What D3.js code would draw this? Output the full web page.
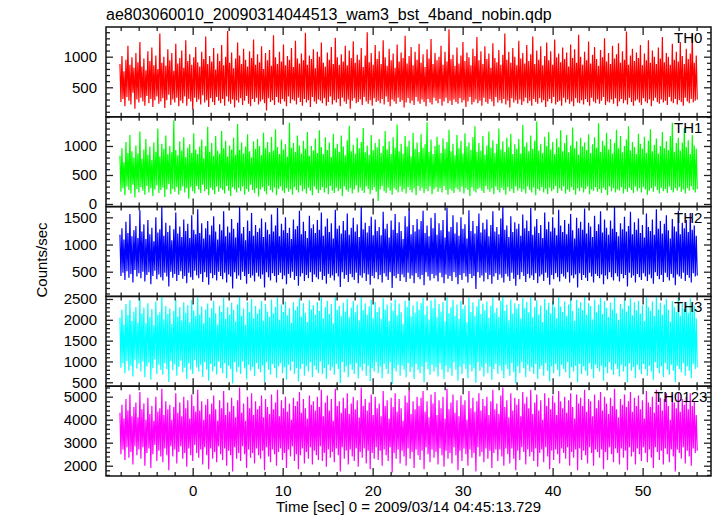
<!DOCTYPE html>
<html><head><meta charset="utf-8">
<script src="https://cdn.jsdelivr.net/npm/d3@7"></script>
<style>body{margin:0;background:#fff}svg{display:block}text{font-family:"Liberation Sans",Arial,Helvetica,sans-serif;fill:#000}</style>
</head><body><svg id="c" width="717" height="516"></svg>
<script>
const chartTitle = "ae803060010_20090314044513_wam3_bst_4band_nobin.qdp";
const xLabel = "Time [sec] 0 = 2009/03/14 04:45:13.729";
const yLabel = "Counts/sec";
const panelNames = ["TH0", "TH1", "TH2", "TH3", "TH0123"];
const panelColors = ["#ff0000", "#00ff00", "#0000ff", "#00ffff", "#ff00ff"];
const timeStart = -8.08, timeStep = 0.1108;
const xDomain = [-9.63, 57.6];
const xMajorTicks = [0, 10, 20, 30, 40, 50];
const xMinorTicks = [-8,-6,-4,-2,2,4,6,8,12,14,16,18,22,24,26,28,32,34,36,38,42,44,46,48,52,54,56];
const yDomains = [[18, 1485], [-45, 1503], [46, 1697], [406, 2562], [1552, 5456]];
const yMajorTicks = [[500, 1000], [0, 500, 1000], [500, 1000, 1500], [500, 1000, 1500, 2000, 2500], [2000, 3000, 4000, 5000]];
const yMinorStep = [100, 100, 100, 100, 200];

const th0 = [880,260,1010,310,760,190,950,340,1180,280,870,220,990,410,820,150,1060,300,910,250,
1240,330,840,270,970,200,780,360,1090,240,930,310,1150,180,860,290,1020,350,800,230,
1380,270,900,320,1000,160,850,290,1120,380,940,210,1060,300,770,250,1210,330,890,190,
980,280,1100,240,820,350,1270,200,930,310,1040,270,870,140,990,330,1160,260,910,300,
840,220,1080,370,960,250,1330,290,880,180,1010,320,920,260,1140,210,790,340,1050,280,
930,240,1190,310,860,200,1000,350,1420,270,900,230,1070,300,810,170,970,290,1230,250,
1020,320,880,210,1130,280,950,360,840,230,1090,190,980,310,1280,260,870,330,1040,220,
910,270,1170,300,800,240,1060,120,940,320,1110,260,850,290,1350,210,990,340,880,250,
1080,230,920,310,1200,270,860,190,1010,350,950,240,1140,300,830,280,1260,220,970,330,
890,260,1050,200,940,310,1390,250,870,290,1020,180,960,340,1120,270,810,230,1080,300,
1000,280,1230,240,900,320,840,200,1070,260,950,350,1160,220,880,290,1310,250,990,310,
870,190,1040,330,920,270,1180,230,860,300,1100,150,980,280,1250,320,900,240,1030,260,
950,300,1140,210,830,340,1020,270,1400,230,910,290,1060,200,870,320,1190,260,960,280,
1090,240,880,310,1270,220,990,350,850,260,1130,190,940,300,1050,270,820,230,1200,330,
920,260,1070,290,980,170,1340,250,890,320,1010,240,1160,280,860,210,1080,340,950,270,
1210,230,900,300,1040,260,830,190,1120,310,970,250,1290,220,880,330,1060,280,940,240,
1000,310,1180,200,870,270,1080,330,920,240,1450,280,960,210,1030,300,850,260,1150,230,
890,320,1020,250,1240,290,930,180,1070,270,990,340,860,220,1130,260,1010,300,1320,240,
940,280,1090,200,880,330,1170,260,960,230,1050,310,820,270,1220,190,980,340,910,250,
1110,290,870,240,1030,310,1380,220,950,280,1080,170,900,320,1140,250,1000,290,860,230,
1260,300,970,210,1060,270,890,330,1190,240,930,280,1040,200,1330,310,880,260,1100,230,
950,320,1170,250,860,290,1010,180,1230,270,940,310,1090,240,870,340,1280,220,990,260,
1050,280,910,200,1150,330,960,250,1070,300,840,230,1200,270,980,190,1120,320,900,250,
1360,240,1000,290,870,220,1080,310,940,260,1250,200,890,330,1030,270,1160,240,960,300,
850,230,1110,280,990,340,1300,210,920,270,1060,250,880,300,1180,230,970,320,1040,190,
1220,270,900,310,1090,240,950,290,1410,220,870,330,1020,260,1130,200,930,280,1070,300,
980,250,1190,210,860,320,1050,270,940,240,1270,300,900,190,1100,280,1000,330,880,260,
1150,230,970,300,1320,250,910,280,1060,210,1000,340,870,270,1210,240,950,310,1080,220,
920,290,1240,260,1010,200,880,330,1130,270,960,240,1050,310,1370,250,900,280,1020,300];

const th1 = [830,210,960,270,720,150,1070,300,880,240,1190,180,910,330,800,110,1010,260,870,200,
1250,290,780,230,940,160,1120,310,850,200,990,270,760,140,1060,250,900,320,1300,190,
820,240,1040,280,950,120,1180,250,860,340,1000,170,890,260,1440,210,930,290,840,160,
1080,230,920,300,1150,200,810,270,970,90,1030,290,880,220,1220,180,940,310,860,250,
990,190,1110,330,790,220,1000,260,1330,150,900,280,1050,240,830,170,1170,300,920,210,
870,270,1260,240,960,180,1090,310,820,230,1010,140,940,290,1140,250,850,200,1380,280,
930,220,1060,300,870,160,990,260,1200,210,910,330,800,240,1080,190,950,270,1120,130,
1000,250,840,290,1230,220,960,170,1070,310,890,240,1160,200,920,280,1290,150,980,260,
860,300,1110,230,940,190,1030,270,820,210,1400,250,970,160,1050,290,900,240,1180,200,
1010,320,870,220,1090,260,950,180,1240,280,830,230,1000,150,920,300,1130,250,880,190,
1270,240,980,290,860,200,1150,270,930,170,1060,310,810,230,1210,190,960,280,1040,220,
900,260,1180,140,990,300,840,240,1100,210,1350,270,910,180,1020,250,870,320,1140,200,
960,280,1070,230,1310,190,890,300,1010,260,850,170,1190,240,930,290,1050,210,980,50,
1120,250,880,310,1000,220,1260,190,940,280,1080,230,860,160,1150,270,970,240,1370,200,
910,300,1040,210,870,260,1170,180,990,290,1090,240,820,200,1230,270,950,150,1060,310,
890,230,1200,280,970,190,1030,260,1410,220,900,300,1110,170,860,250,1000,290,1160,210,
1020,270,880,200,1130,310,950,240,1070,160,1280,260,910,230,1040,190,840,280,1190,250,
960,210,1090,300,870,180,1220,270,990,240,1060,140,930,290,1150,230,1340,200,900,260,
1050,280,920,230,1170,190,850,310,1010,250,1250,210,970,270,1100,170,880,300,1040,240,
1300,200,940,280,1080,240,900,160,1140,290,980,220,1210,260,860,190,1030,300,950,230,
1120,270,870,210,1360,250,990,180,1060,300,910,240,1180,200,950,280,1090,150,1420,260,
920,230,1040,290,880,200,1160,260,1000,170,1240,280,940,220,1070,250,860,310,1130,190,
980,270,1270,230,910,300,1050,180,1190,250,890,210,1010,290,1320,240,960,160,1080,270,
850,220,1140,280,990,200,1060,260,930,300,1200,170,880,250,1030,230,1150,290,970,210,
1390,260,900,190,1090,280,1010,240,1230,150,940,300,1120,220,870,270,1050,200,1280,250,
960,230,1170,290,890,180,1000,260,1110,210,1340,280,920,240,1070,190,980,300,860,220,
1210,270,1040,200,950,290,1160,250,880,160,1090,230,1290,270,910,210,1020,300,1130,240,
870,180,1000,280,1240,220,960,260,1080,190,930,300,1170,240,1400,200,900,270,1050,230,
1140,290,920,210,1060,250,1310,180,980,270,1100,230,860,300,1190,240,1010,200,950,260];

const th2 = [1180,420,1300,480,1090,350,1420,510,1210,390,1560,460,1150,300,1260,530,1340,410,1120,470,
1630,380,1240,500,1370,320,1100,440,1450,490,1190,270,1310,420,1060,520,1500,360,1220,450,
1280,400,1690,340,1160,480,1400,410,1230,230,1350,500,1080,390,1280,460,1590,330,1200,440,
1330,510,1140,370,1460,420,1250,290,1380,480,1120,400,1540,350,1270,520,1190,430,1650,380,
1210,460,1390,310,1110,490,1300,400,1430,260,1180,470,1350,380,1520,440,1240,340,1090,500,
1370,420,1260,360,1610,480,1150,300,1330,450,1220,410,1470,190,1290,490,1130,370,1400,430,
1700,350,1200,500,1320,420,1080,280,1440,460,1250,390,1580,430,1160,320,1360,480,1230,410,
1300,370,1480,450,1140,210,1410,490,1270,400,1190,340,1550,470,1240,420,1350,300,1670,440,
1150,480,1380,360,1260,430,1500,270,1210,460,1310,390,1100,500,1460,350,1280,420,1340,240,
1620,410,1190,470,1420,330,1250,440,1120,380,1530,490,1300,310,1370,450,1210,400,1450,360,
1270,500,1590,350,1160,420,1330,280,1480,460,1230,390,1390,430,1110,340,1640,470,1290,410,
1350,220,1200,490,1430,370,1260,440,1570,310,1180,460,1310,400,1490,350,1240,480,1370,290,
1140,430,1690,390,1280,470,1400,330,1220,450,1340,260,1510,420,1170,380,1460,490,1250,360,
1320,440,1170,300,1600,470,1290,410,1380,350,1130,490,1440,200,1270,420,1560,380,1210,460,
1410,330,1250,450,1100,400,1520,310,1330,480,1660,370,1190,430,1360,290,1240,470,1470,400,
1280,360,1430,440,1620,250,1210,490,1350,410,1150,340,1490,460,1300,380,1580,430,1180,320,
1390,480,1260,400,1450,290,1130,450,1680,370,1240,420,1320,330,1540,490,1200,400,1410,270,
1160,440,1500,350,1290,470,1370,410,1110,300,1630,460,1250,380,1430,420,1200,180,1340,490,
1570,390,1220,430,1400,320,1280,480,1460,360,1150,440,1360,280,1610,410,1240,470,1320,350,
1190,450,1480,390,1700,300,1270,460,1350,410,1140,330,1520,480,1230,370,1410,240,1290,440,
1380,360,1160,490,1550,420,1300,310,1440,460,1250,380,1670,430,1180,350,1330,470,1470,290,
1210,410,1360,450,1120,330,1590,480,1280,390,1420,260,1240,440,1500,360,1310,470,1170,400,
1640,320,1350,460,1230,410,1450,370,1190,490,1380,300,1560,430,1260,380,1110,450,1490,210,
1300,470,1420,350,1270,440,1660,390,1200,330,1400,480,1330,410,1140,300,1530,460,1250,420,
1370,380,1610,450,1220,270,1460,430,1310,360,1180,490,1440,400,1290,340,1690,470,1230,410,
1150,320,1390,460,1280,380,1510,440,1240,230,1340,480,1600,390,1190,430,1410,300,1270,460,
1480,400,1210,350,1360,470,1130,410,1570,330,1320,450,1250,380,1460,280,1180,490,1650,420,
1290,360,1430,440,1200,310,1380,480,1540,400,1260,340,1110,460,1470,390,1330,250,1240,450,
1620,410,1190,370,1400,480,1300,330,1450,440,1230,390,1580,300,1270,470,1350,410,1160,430];

const th3 = [2050,850,2240,960,1880,720,2380,1010,2110,780,2470,900,1970,640,2200,1040,2310,830,1930,950,
2520,760,2150,1000,2290,620,1910,880,2400,970,2060,560,2260,840,1860,1050,2440,700,2120,920,
2180,800,2560,680,2010,960,2330,820,2140,510,2270,1010,1900,790,2210,930,2500,660,2080,870,
2300,1020,1990,740,2420,850,2170,580,2350,950,1940,800,2480,700,2230,1030,2090,860,2550,760,
2130,920,2320,630,1920,980,2250,810,2390,540,2060,940,2280,760,2460,880,2160,690,1890,1000,
2340,840,2190,720,2530,960,2020,600,2300,900,2120,820,2410,470,2240,980,1960,740,2370,860,
2560,700,2100,1000,2270,840,1880,570,2430,920,2180,780,2500,860,2040,650,2330,960,2150,820,
2260,740,2450,900,1980,500,2380,980,2200,800,2070,680,2490,940,2160,840,2310,610,2540,880,
2000,960,2360,720,2190,860,2440,560,2110,920,2280,780,1930,1000,2420,700,2230,840,2320,520,
2510,820,2080,940,2400,660,2170,880,1950,760,2470,980,2250,620,2350,900,2120,800,2430,720,
2210,1000,2540,700,2030,840,2310,580,2460,920,2140,780,2380,860,1920,680,2550,940,2240,820,
2330,480,2090,980,2410,740,2200,880,2500,620,2060,920,2290,800,2450,700,2180,960,2360,590,
1990,860,2560,780,2230,940,2390,660,2130,900,2320,530,2480,840,2040,760,2430,980,2190,720,
2300,880,2020,600,2520,940,2250,820,2370,700,1970,980,2410,460,2220,840,2490,760,2110,920,
2390,660,2180,900,1900,800,2460,620,2310,960,2540,740,2080,860,2350,580,2170,940,2440,800,
2240,720,2400,880,2530,500,2120,980,2340,820,2010,680,2470,920,2280,760,2510,860,2060,640,
2380,960,2200,800,2430,580,1960,900,2560,740,2160,840,2300,660,2480,980,2090,800,2370,540,
2020,880,2450,700,2260,940,2350,820,1940,600,2530,920,2190,760,2420,840,2100,490,2320,980,
2500,780,2140,860,2390,640,2230,960,2440,720,2050,880,2340,560,2540,820,2170,940,2290,700,
2070,900,2460,780,2560,600,2210,920,2360,820,1990,660,2490,960,2150,740,2400,480,2270,880,
2380,720,2030,980,2520,840,2280,620,2430,920,2180,760,2550,860,2060,700,2310,940,2470,580,
2130,820,2350,900,1950,660,2500,960,2240,780,2410,520,2160,880,2450,720,2300,940,2040,800,
2540,640,2320,920,2190,820,2440,740,2090,980,2370,600,2510,860,2210,760,1980,900,2480,500,
2280,940,2420,700,2230,880,2550,780,2120,660,2400,960,2330,820,2010,600,2490,920,2180,840,
2360,760,2530,900,2140,540,2450,860,2290,720,2070,980,2410,800,2250,680,2560,940,2160,820,
2000,640,2380,920,2270,760,2490,880,2200,500,2340,960,2520,780,2110,860,2420,600,2230,920,
2460,800,2150,700,2350,940,1970,820,2540,660,2300,900,2220,760,2440,560,2090,980,2550,840,
2250,720,2410,880,2120,620,2370,960,2500,800,2240,680,1960,920,2450,780,2310,500,2190,900,
2530,820,2100,740,2390,960,2260,660,2430,880,2170,780,2510,600,2230,940,2340,820,2040,860];

const th0123 = [4300,2500,4650,2700,4050,2250,4900,2800,4400,2350,5100,2600,4150,2050,4550,2850,4750,2450,4100,2700,
5200,2300,4450,2800,4700,2000,4000,2550,4950,2750,4250,1900,4600,2500,3950,2900,5000,2200,4350,2650,
4500,2400,5350,2150,4200,2750,4800,2450,4450,1800,4650,2850,4000,2400,4550,2700,5150,2100,4300,2600,
4750,2850,4150,2300,5000,2550,4500,1950,4850,2750,4050,2450,5100,2200,4600,2900,4350,2550,5300,2350,
4400,2700,4800,2050,4000,2800,4650,2450,4900,1850,4250,2750,4700,2300,5050,2600,4450,2150,3950,2850,
4850,2500,4500,2250,5250,2750,4200,2000,4750,2650,4350,2450,4950,1750,4600,2800,4100,2300,4850,2550,
5400,2200,4300,2850,4700,2500,3950,1900,5000,2700,4500,2350,5150,2550,4200,2100,4800,2750,4450,2450,
4600,2300,5050,2650,4100,1800,4900,2800,4550,2400,4250,2150,5100,2700,4450,2500,4750,2000,5300,2600,
4150,2750,4850,2250,4500,2550,5000,1900,4350,2700,4700,2400,4000,2850,4950,2200,4600,2500,4800,1850,
5200,2450,4300,2750,4900,2100,4500,2600,4050,2300,5050,2800,4650,2050,4800,2650,4400,2450,5000,2250,
4550,2850,5300,2200,4150,2550,4750,1950,5050,2700,4400,2350,4900,2600,3950,2150,5350,2750,4600,2450,
4800,1750,4300,2800,4950,2300,4500,2650,5150,2050,4250,2700,4700,2400,5000,2200,4450,2750,4850,1950,
4100,2600,5400,2350,4600,2750,4900,2100,4400,2650,4750,1850,5100,2550,4200,2300,5000,2800,4500,2250,
4700,2650,4150,2000,5250,2700,4600,2450,4850,2200,4050,2800,4950,1700,4550,2550,5150,2300,4350,2700,
4900,2100,4500,2650,3950,2400,5050,2000,4750,2750,5300,2300,4250,2600,4800,1900,4450,2700,5000,2450,
4600,2250,4950,2650,5250,1850,4350,2800,4800,2500,4100,2150,5100,2700,4700,2350,5200,2600,4200,2050,
4850,2750,4500,2450,5000,1950,4050,2650,5350,2300,4450,2550,4750,2100,5100,2800,4300,2450,4850,1800,
4150,2650,5050,2200,4650,2750,4850,2500,4000,2000,5250,2700,4500,2350,4950,2550,4350,1750,4800,2800,
5150,2400,4400,2600,4900,2150,4600,2750,5000,2300,4200,2650,4800,1900,5300,2550,4450,2700,4700,2200,
4250,2700,5050,2400,5400,2000,4550,2750,4850,2500,4100,2100,5150,2750,4400,2300,4950,1800,4650,2650,
4900,2250,4150,2800,5200,2600,4700,2050,5000,2700,4500,2400,5300,2600,4250,2200,4750,2750,5100,1950,
4400,2550,4850,2700,4000,2150,5150,2800,4600,2400,4950,1850,4450,2650,5050,2250,4750,2700,4200,2500,
5250,2100,4800,2750,4500,2550,5000,2300,4300,2800,4850,2000,5150,2600,4550,2350,4050,2700,5100,1800,
4700,2750,4950,2250,4600,2650,5300,2450,4350,2100,4900,2800,4800,2550,4150,2000,5100,2700,4500,2600,
4850,2350,5200,2700,4400,1850,5000,2600,4700,2250,4250,2800,4950,2500,4600,2150,5350,2750,4450,2550,
4100,2050,4900,2750,4650,2350,5100,2650,4550,1800,4800,2800,5200,2400,4350,2600,4950,2050,4600,2750,
5050,2500,4450,2200,4850,2800,4050,2550,5250,2150,4750,2700,4550,2350,5000,1900,4300,2800,5300,2600,
4650,2250,4950,2650,4400,2050,4900,2750,5150,2500,4600,2150,4000,2700,5050,2400,4750,1750,4500,2700,
5200,2550,4350,2300,4900,2800,4650,2100,5000,2650,4450,2400,5150,2000,4600,2750,4800,2550,4200,2650];

const seriesValues = [th0, th1, th2, th3, th0123];

const W = 717, H = 516;
const plotLeft = 106, plotRight = 711, plotTop = 27, plotBottom = 476;
const nP = panelNames.length;
const pH = (plotBottom - plotTop) / nP;
const svg = d3.select("#c");
svg.append("rect").attr("width", W).attr("height", H).attr("fill", "#fff");

const x = d3.scaleLinear().domain(xDomain).range([plotLeft, plotRight]);
const tickColor = "#222";
const fontSize = "15px";

function styleAxis(g) {
  g.select(".domain").remove();
  g.selectAll(".tick line").attr("stroke", tickColor).attr("stroke-width", 1.3);
  g.selectAll("text").attr("font-size", fontSize).attr("font-family", '"Liberation Sans",Arial,sans-serif').attr("fill", "#000");
}

seriesValues.forEach((vals, p) => {
  const y0 = plotTop + p * pH, y1 = y0 + pH;
  const y = d3.scaleLinear().domain(yDomains[p]).range([y1, y0]);
  const clipId = "clip" + p;
  svg.append("clipPath").attr("id", clipId).append("rect")
    .attr("x", plotLeft).attr("y", y0).attr("width", plotRight - plotLeft).attr("height", pH);
  const line = d3.line().x((d, i) => x(timeStart + i * timeStep)).y(d => y(d));
  svg.append("path").datum(vals).attr("clip-path", `url(#${clipId})`)
    .attr("d", line).attr("fill", "none").attr("stroke", panelColors[p])
    .attr("stroke-width", 1.2).attr("stroke-linejoin", "bevel");

  const [dmin, dmax] = yDomains[p];
  const minor = d3.range(Math.ceil(dmin / yMinorStep[p]) * yMinorStep[p], dmax, yMinorStep[p])
    .filter(v => !yMajorTicks[p].includes(v));
  const gl = svg.append("g").attr("transform", `translate(${plotLeft},0)`)
    .call(d3.axisLeft(y).tickValues(yMajorTicks[p]).tickSize(-7).tickPadding(9).tickFormat(d3.format("d")));
  styleAxis(gl);
  const glm = svg.append("g").attr("transform", `translate(${plotLeft},0)`)
    .call(d3.axisLeft(y).tickValues(minor).tickSize(-4).tickFormat(""));
  styleAxis(glm);
  const gr = svg.append("g").attr("transform", `translate(${plotRight},0)`)
    .call(d3.axisRight(y).tickValues(yMajorTicks[p]).tickSize(-7).tickFormat(""));
  styleAxis(gr);
  const grm = svg.append("g").attr("transform", `translate(${plotRight},0)`)
    .call(d3.axisRight(y).tickValues(minor).tickSize(-4).tickFormat(""));
  styleAxis(grm);
  [[y0, d3.axisTop], [y1, d3.axisBottom]].forEach(([yy, ax]) => {
    const isLast = (p === nP - 1 && yy === y1);
    const g = svg.append("g").attr("transform", `translate(0,${yy})`)
      .call(ax(x).tickValues(xMajorTicks).tickSize(-8).tickPadding(9).tickFormat(isLast ? d3.format("d") : ""));
    styleAxis(g);
    const gm = svg.append("g").attr("transform", `translate(0,${yy})`)
      .call(ax(x).tickValues(xMinorTicks).tickSize(-4).tickFormat(""));
    styleAxis(gm);
  });
  svg.append("rect").attr("x", plotLeft).attr("y", y0).attr("width", plotRight - plotLeft).attr("height", pH)
    .attr("fill", "none").attr("stroke", "#111").attr("stroke-width", 1.5);
  svg.append("text").attr("x", p === nP - 1 ? 654 : 674).attr("y", y0 + 16)
    .attr("font-size", fontSize).text(panelNames[p]);
});

svg.append("text").attr("x", plotLeft).attr("y", 20).attr("font-size", "16px").text(chartTitle);
svg.append("text").attr("x", (plotLeft + plotRight) / 2).attr("y", 512).attr("text-anchor", "middle")
  .attr("font-size", fontSize).text(xLabel);
svg.append("text").attr("transform", "translate(47,260) rotate(-90)").attr("text-anchor", "middle")
  .attr("font-size", fontSize).text(yLabel);
</script></body></html>
